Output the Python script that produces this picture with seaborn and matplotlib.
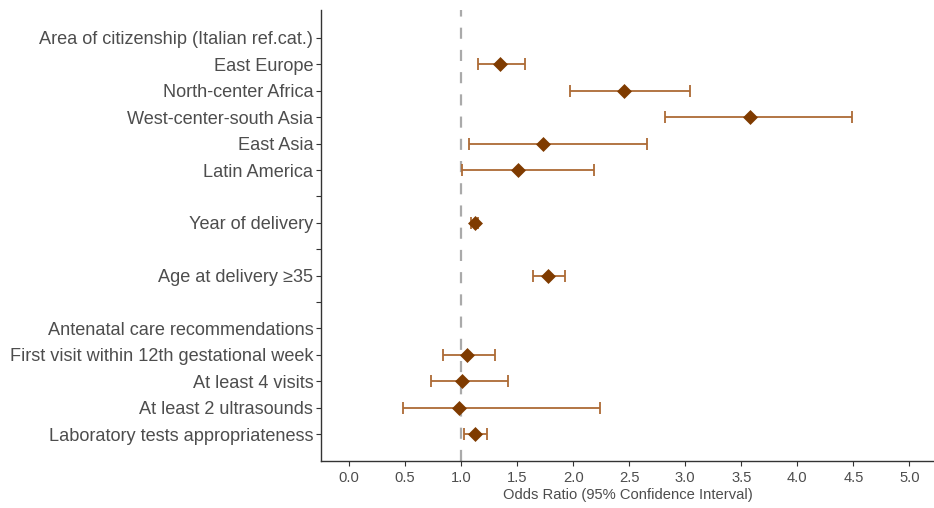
import numpy as np
import pandas as pd
import matplotlib
matplotlib.use("Agg")
import matplotlib.pyplot as plt
import seaborn as sns

# ---------------------------------------------------------------------------
# Data
# ---------------------------------------------------------------------------
row_labels = [
    "Area of citizenship (Italian ref.cat.)",
    "East Europe",
    "North-center Africa",
    "West-center-south Asia",
    "East Asia",
    "Latin America",
    "",
    "Year of delivery",
    "",
    "Age at delivery \u226535",
    "",
    "Antenatal care recommendations",
    "First visit within 12th gestational week",
    "At least 4 visits",
    "At least 2 ultrasounds",
    "Laboratory tests appropriateness",
]

# rows that carry an estimate, with odds ratio and 95% CI
est_labels = [
    "East Europe",
    "North-center Africa",
    "West-center-south Asia",
    "East Asia",
    "Latin America",
    "Year of delivery",
    "Age at delivery \u226535",
    "First visit within 12th gestational week",
    "At least 4 visits",
    "At least 2 ultrasounds",
    "Laboratory tests appropriateness",
]
odds_ratio = [1.35, 2.45, 3.58, 1.73, 1.51, 1.12, 1.78, 1.05, 1.01, 0.98, 1.12]
ci_low     = [1.15, 1.97, 2.82, 1.07, 1.01, 1.09, 1.64, 0.84, 0.73, 0.48, 1.03]
ci_high    = [1.57, 3.04, 4.49, 2.66, 2.19, 1.15, 1.93, 1.30, 1.42, 2.24, 1.23]

x_ticks = [0.0, 0.5, 1.0, 1.5, 2.0, 2.5, 3.0, 3.5, 4.0, 4.5, 5.0]

# ---------------------------------------------------------------------------
# Build table
# ---------------------------------------------------------------------------
df = pd.DataFrame({
    "label": est_labels,
    "or": odds_ratio,
    "lo": ci_low,
    "hi": ci_high,
})
df["pos"] = [row_labels.index(l) for l in df["label"]]

TEXT = "#4D4D4D"
POINT = "#7F3B00"
BAR = "#AD6A35"

sns.set_theme(style="white")
plt.rcParams["font.family"] = ["Liberation Sans", "DejaVu Sans"]

fig = plt.figure(figsize=(9.34, 5.08), dpi=100)
ax = fig.add_axes([321 / 934, 1 - 461 / 508, 1 - 321 / 934, (461 - 10) / 508])

# reference line at OR = 1
ax.axvline(1.0, color="#AAAAAA", lw=1.6, ls=(0, (5, 5)), zorder=1)

# confidence intervals
ax.errorbar(
    df["or"], df["pos"],
    xerr=[df["or"] - df["lo"], df["hi"] - df["or"]],
    fmt="none", ecolor=BAR, elinewidth=1.3, capsize=4.5, capthick=1.3,
    zorder=2,
)

# point estimates
sns.scatterplot(
    data=df, x="or", y="pos", marker="D", s=58, color=POINT,
    edgecolor=POINT, linewidth=0, zorder=3, ax=ax, legend=False,
)

ax.set_yticks(range(len(row_labels)))
ax.set_yticklabels(row_labels)
ax.set_ylim(len(row_labels) - 1 + 1.02, -1.06)

ax.set_xticks(x_ticks)
ax.set_xticklabels([f"{t:.1f}" for t in x_ticks])
ax.set_xlim(-0.25, 5.22)

ax.set_xlabel("Odds Ratio (95% Confidence Interval)", fontsize=10.6,
              color=TEXT, labelpad=2)
ax.set_ylabel("")

ax.tick_params(axis="y", labelsize=13.1, colors="#333333", labelcolor=TEXT,
               length=3.5, width=0.8, left=True, pad=2)
ax.tick_params(axis="x", labelsize=10.6, colors="#333333", labelcolor=TEXT,
               length=3.5, width=0.8, bottom=True, pad=4)

for side in ["top", "right"]:
    ax.spines[side].set_visible(False)
for side in ["left", "bottom"]:
    ax.spines[side].set_color("#333333")
    ax.spines[side].set_linewidth(1.0)

fig.savefig("out.png", dpi=100)
